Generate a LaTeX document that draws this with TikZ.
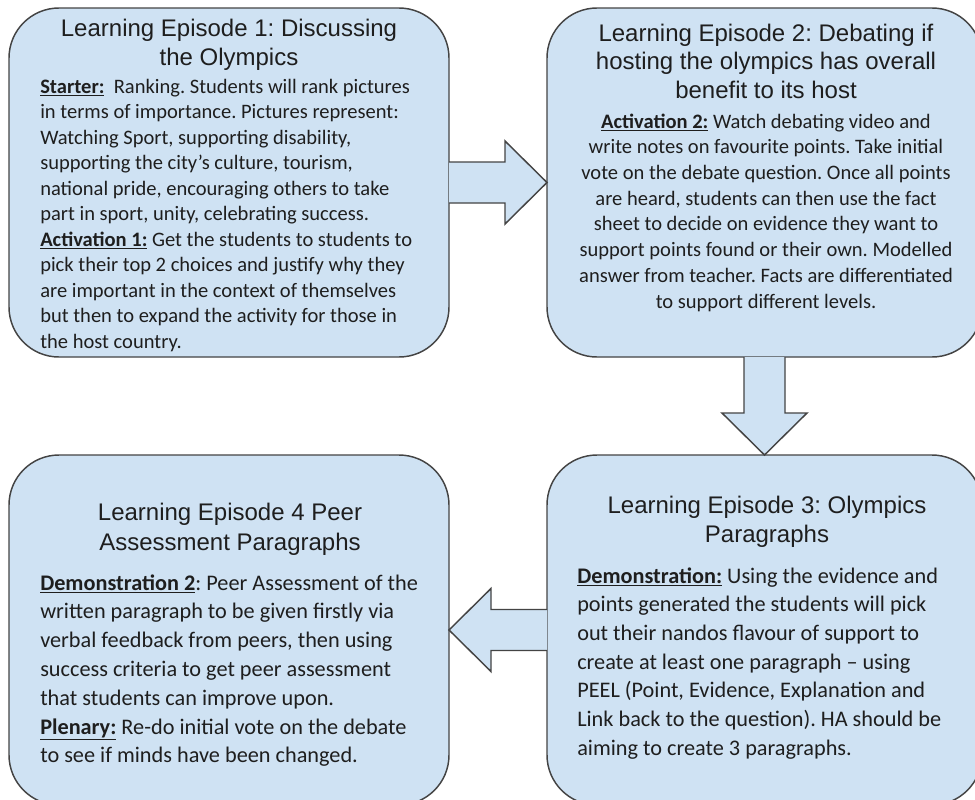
\documentclass[tikz,border=0pt]{standalone}
\usepackage{fontspec}
\setmainfont{Carlito}
\newfontfamily\titlefont{Liberation Sans}
\usetikzlibrary{calc}
\frenchspacing
\definecolor{boxfill}{RGB}{207,226,243}
\definecolor{boxline}{RGB}{68,68,68}
\definecolor{ink}{RGB}{30,30,30}
\newcommand\CLines[2]{\vtop{\baselineskip=#1\lineskiplimit=-20pt\relax\halign{\hfil##\hfil\cr#2\crcr}}}
\newcommand\LLines[2]{\vtop{\baselineskip=#1\lineskiplimit=-20pt\relax\halign{##\hfil\cr#2\crcr}}}
\newcommand\hd[1]{\underline{\textbf{#1}}}
\tikzset{
  episode/.style={draw=boxline, fill=boxfill, line width=1.1pt, rounded corners=37.5pt, inner sep=0pt, outer sep=0pt},
  titletext/.style={anchor=base, inner sep=0pt, text=ink, font=\titlefont\fontsize{18}{21.75}\selectfont},
  bodytext/.style={anchor=base west, inner sep=0pt, text=ink, font=\fontsize{15.4}{19}\selectfont},
  bodyctext/.style={anchor=base, inner sep=0pt, text=ink, font=\fontsize{15.4}{19}\selectfont},
  bodylarge/.style={anchor=base west, inner sep=0pt, text=ink, font=\fontsize{16.7}{21}\selectfont},
  blockarrow/.style={draw=boxline, fill=boxfill, line width=1.1pt, line join=miter}
}
\begin{document}
\begin{tikzpicture}[x=0.75pt,y=-0.75pt]
\useasboundingbox (0,0) rectangle (975,800);
\clip (0,0) rectangle (975,800);
\fill[white] (0,0) rectangle (975,800);

% boxes
\node[episode, minimum width=330pt, minimum height=261.75pt] (b1) at (229,182.5) {};
\node[episode, minimum width=326.25pt, minimum height=261.75pt] (b2) at (764.5,182.5) {};
\node[episode, minimum width=326.25pt, minimum height=262.5pt] (b3) at (764.5,630) {};
\node[episode, minimum width=330pt, minimum height=262.5pt] (b4) at (229,630) {};

% block arrows
\draw[blockarrow] ($(b1.east)+(0,-20.5)$) -- ($(b2.west)+(-42,-20.5)$) -- ($(b2.west)+(-42,-41.5)$) -- (b2.west) -- ($(b2.west)+(-42,41.5)$) -- ($(b2.west)+(-42,20.5)$) -- ($(b1.east)+(0,20.5)$);
\draw[blockarrow] ($(b2.south)+(-20.5,0)$) -- ($(b3.north)+(-20.5,-42)$) -- ($(b3.north)+(-42.5,-42)$) -- (b3.north) -- ($(b3.north)+(42.5,-42)$) -- ($(b3.north)+(20.5,-42)$) -- ($(b2.south)+(20.5,0)$);
\draw[blockarrow] ($(b3.west)+(0,-20.5)$) -- ($(b4.east)+(42,-20.5)$) -- ($(b4.east)+(42,-41.5)$) -- (b4.east) -- ($(b4.east)+(42,41.5)$) -- ($(b4.east)+(42,20.5)$) -- ($(b3.west)+(0,20.5)$);

% box 1
\node[titletext] (t1) at (229,36) {\CLines{21.75pt}{Learning Episode 1: Discussing\cr
the Olympics}};
\node[bodytext] (p1) at (40,93) {\LLines{19.125pt}{\hd{Starter:}\ \ Ranking. Students will rank pictures\cr
in terms of importance. Pictures represent:\cr
Watching Sport, supporting disability,\cr
supporting the city’s culture, tourism,\cr
national pride, encouraging others to take\cr
part in sport, unity, celebrating success.\cr
\hd{Activation 1:} Get the students to students to\cr
pick their top 2 choices and justify why they\cr
are important in the context of themselves\cr
but then to expand the activity for those in\cr
the host country.}};

% box 2
\node[titletext] (t2) at (766,41) {\CLines{21.5pt}{Learning Episode 2: Debating if\cr
hosting the olympics has overall\cr
benefit to its host}};
\node[bodyctext] (p2) at (766,128) {\CLines{19.3pt}{\hd{Activation 2:} Watch debating video and\cr
write notes on favourite points. Take initial\cr
vote on the debate question. Once all points\cr
are heard, students can then use the fact\cr
sheet to decide on evidence they want to\cr
support points found or their own. Modelled\cr
answer from teacher. Facts are differentiated\cr
to support different levels.}};

% box 3
\node[titletext] (t3) at (767,513) {\CLines{22pt}{Learning Episode 3: Olympics\cr
Paragraphs}};
\node[bodylarge] (p3) at (577,583) {\LLines{21.5pt}{\hd{Demonstration:} Using the evidence and\cr
points generated the students will pick\cr
out their nandos flavour of support to\cr
create at least one paragraph – using\cr
PEEL (Point, Evidence, Explanation and\cr
Link back to the question). HA should be\cr
aiming to create 3 paragraphs.}};

% box 4
\node[titletext] (t4) at (230,520) {\CLines{22.5pt}{Learning Episode 4 Peer\cr
Assessment Paragraphs}};
\node[bodylarge] (p4) at (40,590) {\LLines{21.6pt}{\hd{Demonstration 2}: Peer Assessment of the\cr
written paragraph to be given firstly via\cr
verbal feedback from peers, then using\cr
success criteria to get peer assessment\cr
that students can improve upon.\cr
\hd{Plenary:} Re-do initial vote on the debate\cr
to see if minds have been changed.}};
\end{tikzpicture}
\end{document}
